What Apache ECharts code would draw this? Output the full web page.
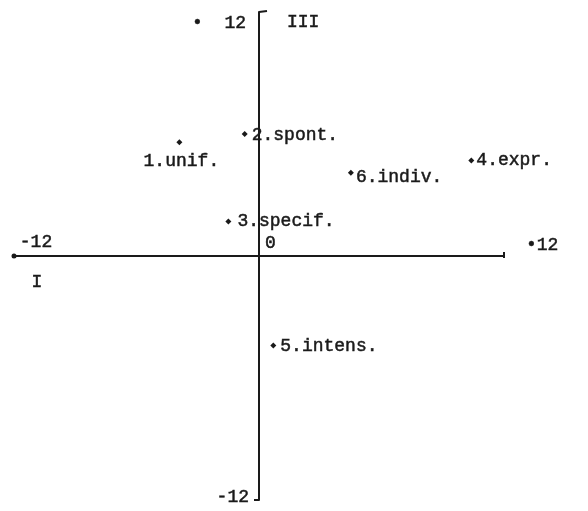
<!DOCTYPE html>
<html>
<head>
<meta charset="utf-8">
<script src="https://cdn.jsdelivr.net/npm/echarts@6/dist/echarts.min.js"></script>
<style>
  html, body { margin: 0; padding: 0; background: #fff; }
  #chart { width: 588px; height: 511px; }
</style>
</head>
<body>
<div id="chart"></div>
<script>
// Dimension scores on the two-factor plane
var names = ['1.unif.', '2.spont.', '3.specif.', '4.expr.', '5.intens.', '6.indiv.'];
var xValues = [-3.9, -0.7, -1.5, 10.4, 0.7, 4.5];
var yValues = [5.6, 6.0, 1.7, 4.7, -4.4, 4.1];

// Axis extent and end labels
var axisMin = -12;
var axisMax = 12;
var xEndLabels = ['-12', '\u202212'];
var yEndLabels = ['\u2022  12', '-12'];
var originLabel = '0';
var quadrantLabels = ['III', 'I'];

var FONT = '"Liberation Mono", "DejaVu Sans Mono", monospace';
var INK = '#1a1a1a';

var labelPlacement = [
  { position: 'bottom', offset: [2, 3] },
  { position: 'right', offset: [0, 1] },
  { position: 'right', offset: [2, 0] },
  { position: 'right', offset: [-2, 0] },
  { position: 'right', offset: [0, 1] },
  { position: 'right', offset: [-2, 5] }
];

var points = names.map(function (n, i) {
  return {
    name: n,
    value: [xValues[i], yValues[i]],
    label: Object.assign({ show: true, formatter: n }, labelPlacement[i])
  };
});

var chart = echarts.init(document.getElementById('chart'), null, { renderer: 'canvas' });

var axisCommon = {
  type: 'value',
  min: axisMin,
  max: axisMax,
  axisLine: { show: true, onZero: true, lineStyle: { color: INK, width: 2 } },
  axisTick: { show: false },
  axisLabel: { show: false },
  splitLine: { show: false }
};

chart.setOption({
  backgroundColor: '#fff',
  animation: false,
  grid: { left: 14, right: 84, top: 12, bottom: 11, containLabel: false },
  xAxis: axisCommon,
  yAxis: axisCommon,
  series: [{
    type: 'scatter',
    symbol: 'diamond',
    symbolSize: 6,
    itemStyle: { color: INK, opacity: 1 },
    label: {
      color: INK, fontFamily: FONT, fontSize: 18, distance: 4,
      textBorderColor: INK, textBorderWidth: 0.5
    },
    data: points
  }]
});

// Axis end labels, origin mark, quadrant numerals and end serifs
function px(x, y) { return chart.convertToPixel({ gridIndex: 0 }, [x, y]); }
var textStyle = function (t, align, vAlign) {
  return {
    text: t, fill: INK, stroke: INK, lineWidth: 0.5,
    font: '18px ' + FONT, align: align, verticalAlign: vAlign
  };
};
var pL = px(axisMin, 0), pR = px(axisMax, 0), pT = px(0, axisMax), pB = px(0, axisMin), pO = px(0, 0);
chart.setOption({
  graphic: [
    { type: 'text', x: pL[0] + 22, y: pL[1] - 14, style: textStyle(xEndLabels[0], 'center', 'middle') },
    { type: 'text', x: pR[0] + 22, y: pR[1] - 11, style: textStyle(xEndLabels[1], 'left', 'middle') },
    { type: 'text', x: pT[0] - 13, y: pT[1] + 11, style: textStyle(yEndLabels[0], 'right', 'middle') },
    { type: 'text', x: pB[0] - 10, y: pB[1] - 3, style: textStyle(yEndLabels[1], 'right', 'middle') },
    { type: 'text', x: pO[0] + 6, y: pO[1] - 13, style: textStyle(originLabel, 'left', 'middle') },
    { type: 'text', x: pT[0] + 28, y: pT[1] + 10, style: textStyle(quadrantLabels[0], 'left', 'middle') },
    { type: 'text', x: pL[0] + 23, y: pL[1] + 26, style: textStyle(quadrantLabels[1], 'center', 'middle') },
    { type: 'line', shape: { x1: pT[0], y1: pT[1], x2: pT[0] + 8, y2: pT[1] - 1 }, style: { stroke: INK, lineWidth: 2 } },
    { type: 'line', shape: { x1: pB[0] - 5, y1: pB[1], x2: pB[0], y2: pB[1] }, style: { stroke: INK, lineWidth: 2 } },
    { type: 'line', shape: { x1: pR[0], y1: pR[1] - 4, x2: pR[0], y2: pR[1] + 2 }, style: { stroke: INK, lineWidth: 2 } },
    { type: 'circle', shape: { cx: pL[0], cy: pL[1], r: 2.5 }, style: { fill: INK } }
  ]
});
</script>
</body>
</html>
